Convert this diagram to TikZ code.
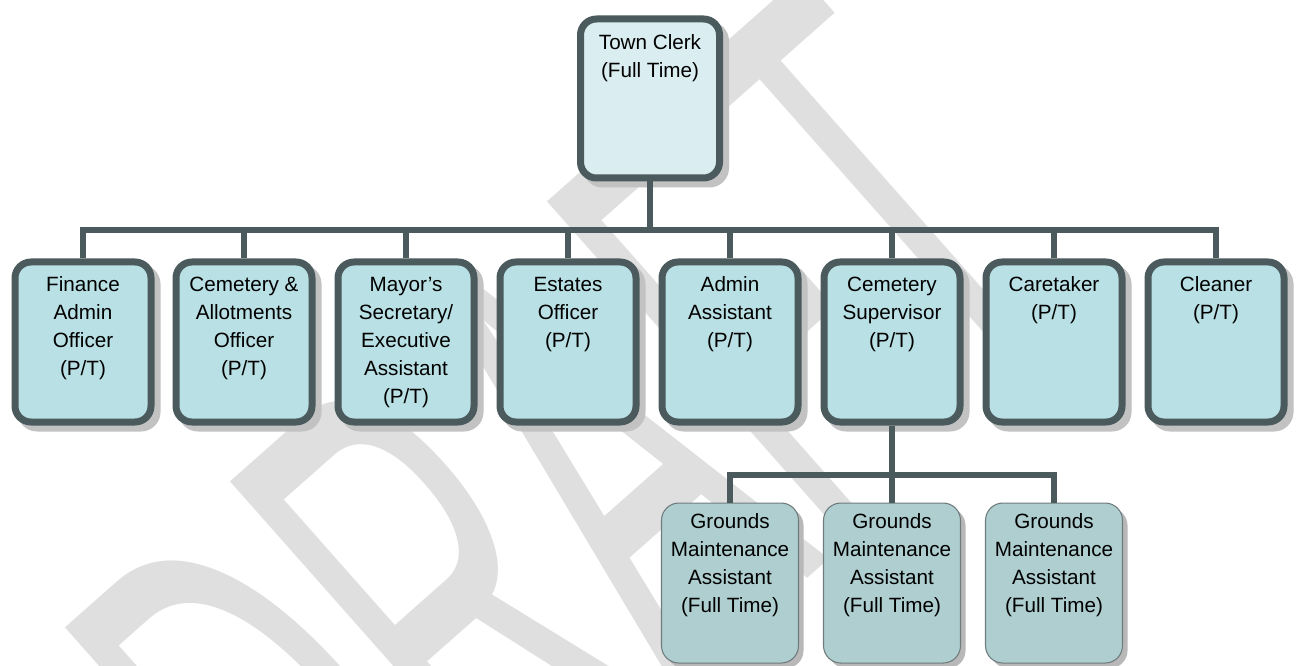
\documentclass[tikz,border=0pt]{standalone}
\usepackage{fontspec}
\setmainfont{Liberation Sans}
\definecolor{bordercol}{HTML}{4B5A5C}
\definecolor{fillA}{HTML}{DAEDF0}
\definecolor{fillB}{HTML}{B9E0E4}
\definecolor{fillC}{HTML}{AECED0}
\definecolor{wmcol}{HTML}{DFDFDF}
\definecolor{shadcol}{HTML}{C2C2C2}
\newcommand{\toptext}[1]{\parbox[c][119.25pt][t]{104.25pt}{\centering\rule{0pt}{23.25pt}\ignorespaces#1}}
\newcommand{\midtext}[1]{\parbox[c][120pt][t]{102pt}{\centering\rule{0pt}{22pt}\ignorespaces#1}}
\newcommand{\lowtext}[1]{\parbox[c][120pt][t]{102.75pt}{\centering\rule{0pt}{19pt}\ignorespaces#1}}
\tikzset{
  orgbox/.style={draw=bordercol, line width=5.25pt, rounded corners=12pt, inner sep=0pt, anchor=north,
    font=\fontsize{15.5}{21}\selectfont,
    preaction={draw=shadcol, fill=shadcol, line width=5.25pt, transform canvas={shift={(4.5pt,-4.5pt)}}}},
  topbox/.style={orgbox, fill=fillA},
  midbox/.style={orgbox, fill=fillB},
  lowbox/.style={draw=bordercol!80, line width=0.8pt, rounded corners=13pt, inner sep=0pt, anchor=north, fill=fillC,
    font=\fontsize{15.5}{21}\selectfont,
    preaction={fill=black!28, transform canvas={shift={(3.75pt,-3.75pt)}}}},
  conn/.style={draw=bordercol, line width=4.5pt},
  watermark/.style={text=wmcol, inner sep=0pt, anchor=base west, font=\fontsize{228.75}{228.75}\selectfont}
}
\begin{document}
\begin{tikzpicture}[x=0.75pt,y=-0.75pt]
\useasboundingbox (0,0) rectangle (1298,666);
\begin{scope}
\clip (0,0) rectangle (1298,666);
\node[watermark, rotate=41.5] (wm) at (347,985) {\scalebox{1}[2.164]{DRAFT}};
\end{scope}
% top
\node[topbox] (tc) at (650,15.5) {\toptext{Town Clerk\\(Full Time)}};
% second row
\node[midbox] (b1) at (83,258.5) {\midtext{Finance\\Admin\\Officer\\(P/T)}};
\node[midbox] (b2) at (244,258.5) {\midtext{Cemetery \&\\Allotments\\Officer\\(P/T)}};
\node[midbox] (b3) at (406,258.5) {\midtext{Mayor’s\\Secretary/\\Executive\\Assistant\\(P/T)}};
\node[midbox] (b4) at (568,258.5) {\midtext{Estates\\Officer\\(P/T)}};
\node[midbox] (b5) at (730,258.5) {\midtext{Admin\\Assistant\\(P/T)}};
\node[midbox] (b6) at (892,258.5) {\midtext{Cemetery\\Supervisor\\(P/T)}};
\node[midbox] (b7) at (1054,258.5) {\midtext{Caretaker\\(P/T)}};
\node[midbox] (b8) at (1216,258.5) {\midtext{Cleaner\\(P/T)}};
% third row
\node[lowbox] (g1) at (730,502.5) {\lowtext{Grounds\\Maintenance\\Assistant\\(Full Time)}};
\node[lowbox] (g2) at (892,502.5) {\lowtext{Grounds\\Maintenance\\Assistant\\(Full Time)}};
\node[lowbox] (g3) at (1054,502.5) {\lowtext{Grounds\\Maintenance\\Assistant\\(Full Time)}};
% connectors
\coordinate (j1) at (650,230);
\coordinate (j2) at (892,475);
\draw[conn] (tc.south) -- (j1);
\foreach \b in {b1,b2,b3,b4,b5,b6,b7,b8} \draw[conn] (j1) -| (\b.north);
\draw[conn] (b6.south) -- (j2);
\foreach \g in {g1,g2,g3} \draw[conn] (j2) -| (\g.north);
\end{tikzpicture}
\end{document}
